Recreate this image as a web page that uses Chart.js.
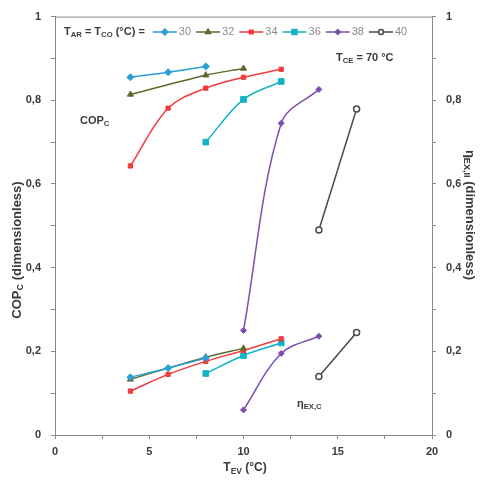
<!DOCTYPE html>
<html>
<head>
<meta charset="utf-8">
<script src="https://cdn.jsdelivr.net/npm/chart.js@4.4.1/dist/chart.umd.min.js"></script>
<style>
  html, body { margin: 0; padding: 0; background: #fff; }
  #wrap { width: 480px; height: 482px; }
</style>
</head>
<body>
<div id="wrap"><canvas id="c"></canvas></div>
<script>
// temperatures T_AR = T_CO (°C)
const temps = ['30', '32', '34', '36', '38', '40'];

// evaporator temperature points per series
const tev30 = [4, 6, 8];
const tev32 = [4, 8, 10];
const tev34 = [4, 6, 8, 10, 12];
const tev36 = [8, 10, 12];
const tev38 = [10, 12, 14];
const tev40 = [14, 16];

// COP_C (left axis)
const cop30 = [0.855, 0.867, 0.881];
const cop32 = [0.814, 0.860, 0.876];
const cop34 = [0.643, 0.781, 0.829, 0.855, 0.874];
const cop36 = [0.700, 0.802, 0.845];
const cop38 = [0.250, 0.745, 0.826];
const cop40 = [0.490, 0.779];

// eta EX,II (right axis)
const eta30 = [0.138, 0.160, 0.184];
const eta32 = [0.133, 0.186, 0.207];
const eta34 = [0.105, 0.145, 0.176, 0.202, 0.230];
const eta36 = [0.147, 0.190, 0.220];
const eta38 = [0.060, 0.195, 0.236];
const eta40 = [0.140, 0.245];

const xTicks = [0, 5, 10, 15, 20];

const tevs = [tev30, tev32, tev34, tev36, tev38, tev40];
const cops = [cop30, cop32, cop34, cop36, cop38, cop40];
const etas = [eta30, eta32, eta34, eta36, eta38, eta40];

const colors = ['#2a9fd6', '#5e6a2c', '#f23b3b', '#12b3c4', '#7d4fae', '#4a4a4a'];
const markers = ['rectRot', 'triangle', 'rect', 'rect', 'rectRot', 'circle'];
const mSize = [3.5, 3.5, 3, 4, 3, 3];

const txt = '#3a3a3a';
const fam = '"Liberation Sans", Arial, sans-serif';

function pts(xs, ys) { return xs.map((x, i) => ({ x: x, y: ys[i] })); }

const datasets = [];
temps.forEach((t, i) => {
    const base = {
        label: t,
        showLine: true,
        borderColor: colors[i],
        backgroundColor: i === 5 ? '#ffffff' : colors[i],
        pointBorderColor: colors[i],
        pointStyle: markers[i],
        pointRadius: mSize[i],
        pointBorderWidth: i === 5 ? 1.5 : 1,
        borderWidth: 1.5,
        tension: 0.35
    };
    datasets.push(Object.assign({}, base, { data: pts(tevs[i], cops[i]), yAxisID: 'y' }));
    datasets.push(Object.assign({}, base, { data: pts(tevs[i], etas[i]), yAxisID: 'y1' }));
});

// draw text with subscripts: parts = [[text, isSub], ...]
function richWidth(ctx, parts, size) {
    let w = 0;
    parts.forEach(p => {
        ctx.font = 'bold ' + (p[1] ? size * 0.7 : size) + 'px ' + fam;
        w += ctx.measureText(p[0]).width;
    });
    return w;
}
function drawRich(ctx, parts, x, y, size, align) {
    const w = richWidth(ctx, parts, size);
    let cx = align === 'center' ? x - w / 2 : x;
    ctx.textBaseline = 'middle';
    ctx.textAlign = 'left';
    parts.forEach(p => {
        const s = p[1] ? size * 0.7 : size;
        ctx.font = 'bold ' + s + 'px ' + fam;
        ctx.fillText(p[0], cx, p[1] ? y + size * 0.3 : y);
        cx += ctx.measureText(p[0]).width;
    });
    return cx;
}

function drawMarker(ctx, i, x, y) {
    Chart.helpers.drawPoint(ctx, {
        pointStyle: markers[i], radius: mSize[i] - 0.5, borderWidth: 1, rotation: 0
    }, x, y);
}

const decor = {
    id: 'decor',
    afterDraw(chart) {
        const ctx = chart.ctx;
        const a = chart.chartArea;
        ctx.save();
        // frame
        ctx.strokeStyle = '#8a8a8a';
        ctx.lineWidth = 1;
        ctx.strokeRect(a.left + 0.5, a.top + 0.5, a.right - a.left, a.bottom - a.top);
        ctx.fillStyle = txt;

        // legend
        let lx = drawRich(ctx, [['T', 0], ['AR', 1], [' = T', 0], ['CO', 1], [' (°C) =', 0]], 64, 32, 11, 'left');
        lx += 8;
        temps.forEach((t, i) => {
            ctx.strokeStyle = colors[i];
            ctx.fillStyle = i === 5 ? '#ffffff' : colors[i];
            ctx.lineWidth = 1.5;
            ctx.beginPath();
            ctx.moveTo(lx, 32);
            ctx.lineTo(lx + 24, 32);
            ctx.stroke();
            drawMarker(ctx, i, lx + 12, 32);
            ctx.fillStyle = '#8a8a8a';
            ctx.font = '11px ' + fam;
            ctx.textAlign = 'left';
            ctx.textBaseline = 'middle';
            ctx.fillText(t, lx + 26, 32);
            lx += 26 + ctx.measureText(t).width + 5;
        });

        ctx.fillStyle = txt;
        drawRich(ctx, [['T', 0], ['CE', 1], [' = 70 °C', 0]], 336, 58, 11, 'left');
        drawRich(ctx, [['COP', 0], ['C', 1]], 80, 121, 11, 'left');
        drawRich(ctx, [['η', 0], ['EX,C', 1]], 297, 404, 11, 'left');

        // x title
        drawRich(ctx, [['T', 0], ['EV', 1], [' (°C)', 0]], 245, 468, 12, 'center');

        // left title
        ctx.save();
        ctx.translate(17, 250);
        ctx.rotate(-Math.PI / 2);
        drawRich(ctx, [['COP', 0], ['C', 1], [' (dimensionless)', 0]], 0, 0, 13, 'center');
        ctx.restore();

        // right title
        ctx.save();
        ctx.translate(470, 215);
        ctx.rotate(Math.PI / 2);
        drawRich(ctx, [['η', 0], ['EX,II', 1], [' (dimensionless)', 0]], 0, 0, 13, 'center');
        ctx.restore();
        ctx.restore();
    }
};

function yLabel(v) {
    const r = Math.round(v * 10);
    if (r % 2 !== 0) return '';
    if (r === 0) return '0';
    if (r === 10) return '1';
    return (r / 10).toFixed(1).replace('.', ',');
}

new Chart(document.getElementById('c'), {
    type: 'scatter',
    data: { datasets: datasets },
    plugins: [decor],
    options: {
        responsive: true,
        maintainAspectRatio: false,
        animation: false,
        layout: { padding: { top: 15, left: 0, right: 0, bottom: 0 } },
        plugins: { legend: { display: false }, tooltip: { enabled: false } },
        scales: {
            x: {
                type: 'linear',
                min: 0, max: 20,
                afterBuildTicks: s => { s.ticks = [0, 2.5, 5, 7.5, 10, 12.5, 15, 17.5, 20].map(v => ({ value: v })); },
                ticks: {
                    color: txt, font: { family: fam, size: 11, weight: 'bold' }, padding: 6,
                    maxRotation: 0, autoSkip: false,
                    callback: v => xTicks.includes(v) ? String(v) : ''
                },
                grid: { drawOnChartArea: false, tickLength: 4, color: '#8a8a8a' },
                border: { color: '#8a8a8a' },
                afterFit: s => { s.height = 47; }
            },
            y: {
                position: 'left',
                min: 0, max: 1,
                ticks: {
                    stepSize: 0.1, autoSkip: false, color: txt, padding: 10,
                    font: { family: fam, size: 11, weight: 'bold' },
                    callback: yLabel
                },
                grid: { drawOnChartArea: false, tickLength: 4, color: '#8a8a8a' },
                border: { color: '#8a8a8a' },
                afterFit: s => { s.width = 55; }
            },
            y1: {
                position: 'right',
                min: 0, max: 1,
                ticks: {
                    stepSize: 0.1, autoSkip: false, color: txt, padding: 10,
                    font: { family: fam, size: 11, weight: 'bold' },
                    callback: yLabel
                },
                grid: { drawOnChartArea: false, tickLength: 4, color: '#8a8a8a' },
                border: { color: '#8a8a8a' },
                afterFit: s => { s.width = 48; }
            }
        }
    }
});
</script>
</body>
</html>
